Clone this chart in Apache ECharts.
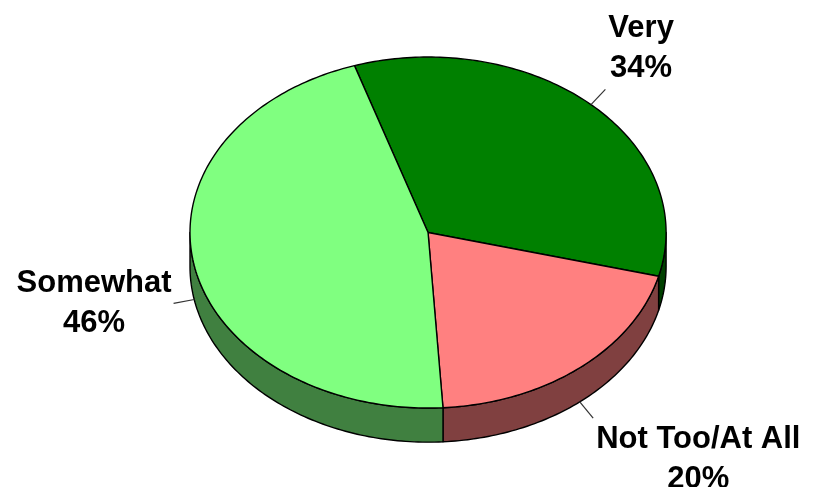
<!DOCTYPE html>
<html>
<head>
<meta charset="utf-8">
<script src="https://cdn.jsdelivr.net/npm/echarts@6/dist/echarts.min.js"></script>
<style>
html,body{margin:0;padding:0;background:#fff;}
#chart{width:813px;height:487px;}
</style>
</head>
<body>
<div id="chart"></div>
<script>
const categories = ['Very', 'Not Too/At All', 'Somewhat'];
const values = [34, 20, 46];
const topColors = ['#008000', '#FF8080', '#80FF80'];
const sideColors = ['#004000', '#804040', '#408040'];
const startAngle = -18; // degrees, clockwise from 12 o'clock

const FONT = 'bold 31px "Liberation Sans", Arial, sans-serif';
const LINE_H = 40;

const total = values.reduce((a, b) => a + b, 0);
const starts = [];
let acc = startAngle;
values.forEach(v => { starts.push(acc); acc += v / total * 360; });

const measureCtx = document.createElement('canvas').getContext('2d');
measureCtx.font = FONT;
function textWidth(s) {
  return Math.max.apply(null, s.split('\n').map(l => measureCtx.measureText(l).width));
}

const chart = echarts.init(document.getElementById('chart'));

function renderItem(params, api) {
  const W = api.getWidth(), H = api.getHeight();
  const cx = W * 0.5265, cy = H * 0.4775;
  const rx = W * 0.2928, ry = H * 0.3604, depth = H * 0.07;
  const i = params.dataIndex;
  const a0 = starts[i];
  const a1 = a0 + api.value(0) / total * 360;
  const pt = (deg, dz) => {
    const r = deg * Math.PI / 180;
    return [cx + rx * Math.sin(r), cy - ry * Math.cos(r) + (dz || 0)];
  };
  const arc = (s, e, dz) => {
    const pts = [];
    const n = Math.max(2, Math.ceil(Math.abs(e - s)));
    for (let k = 0; k <= n; k++) pts.push(pt(s + (e - s) * k / n, dz));
    return pts;
  };
  const children = [];
  // side walls (front half: 90..270 deg)
  [-360, 0, 360].forEach(off => {
    const s = Math.max(a0, 90 + off), e = Math.min(a1, 270 + off);
    if (e > s) {
      const pts = arc(s, e, 0).concat(arc(e, s, depth));
      children.push({
        type: 'polygon',
        shape: { points: pts },
        style: { fill: sideColors[i], stroke: '#000', lineWidth: 1.4, lineJoin: 'round' }
      });
    }
  });
  // top face
  children.push({
    type: 'polygon',
    shape: { points: [[cx, cy]].concat(arc(a0, a1, 0)) },
    style: { fill: topColors[i], stroke: '#000', lineWidth: 1.4, lineJoin: 'round' }
  });
  // label + leader
  const mid = (a0 + a1) / 2;
  const mr = mid * Math.PI / 180;
  const front = Math.cos(mr) < 0;
  const p = pt(mid, front ? depth : 0);
  let dx = Math.sin(mr), dy = -Math.cos(mr);
  const len = Math.hypot(dx, dy); dx /= len; dy /= len;
  const q = [p[0] + dx * 21, p[1] + dy * 21];
  children.push({
    type: 'line',
    shape: { x1: p[0], y1: p[1], x2: q[0], y2: q[1] },
    style: { stroke: '#333', lineWidth: 1.2 }
  });
  const text = categories[i] + '\n' + api.value(0) + '%';
  const w = textWidth(text), h = LINE_H * 2;
  let tx, ty;
  if (Math.abs(dx) > 0.9) {
    tx = q[0] + Math.sign(dx) * (w / 2 + 2);
    ty = q[1];
  } else {
    tx = q[0] + Math.sign(dx) * (w / 2 + 3);
    ty = q[1] + Math.sign(dy) * (h / 2 + 1);
  }
  children.push({
    type: 'text',
    style: {
      text: text, x: tx, y: ty, align: 'center', verticalAlign: 'middle',
      font: FONT, lineHeight: LINE_H, fill: '#000'
    }
  });
  return { type: 'group', children: children };
}

chart.setOption({
  animation: false,
  series: [{
    type: 'custom',
    coordinateSystem: 'none',
    renderItem: renderItem,
    data: values.map(v => [v])
  }]
});
</script>
</body>
</html>
